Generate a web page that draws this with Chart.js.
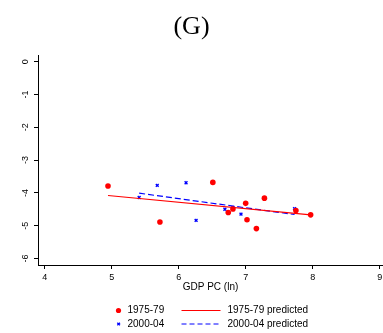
<!DOCTYPE html>
<html>
<head>
<meta charset="utf-8">
<script src="https://cdn.jsdelivr.net/npm/chart.js@4/dist/chart.umd.min.js"></script>
<style>
  html, body { margin: 0; padding: 0; background: #fff; }
  #wrap { width: 383px; height: 333px; }
</style>
</head>
<body>
<div id="wrap"><canvas id="chart" width="383" height="333"></canvas></div>
<script>
// 1975-79 observations (ln GDP per capita, outcome)
const gdp7579 = [4.945, 5.72, 6.51, 6.74, 6.81, 7.0, 7.02, 7.16, 7.28, 7.75, 7.97];
const val7579 = [-3.79, -4.89, -3.68, -4.60, -4.49, -4.32, -4.82, -5.09, -4.16, -4.54, -4.67];

// 2000-04 observations
const gdp0004 = [5.41, 5.68, 6.11, 6.26, 6.69, 6.81, 6.93, 7.73];
const val0004 = [-4.14, -3.77, -3.69, -4.84, -4.50, -4.44, -4.65, -4.48];

// fitted lines, read at their end points
const pred7579X = [4.945, 7.97];
const pred7579Y = [-4.08, -4.67];
const pred0004X = [5.41, 7.73];
const pred0004Y = [-4.01, -4.66];

const xTicks = [4, 5, 6, 7, 8, 9];
const yTicks = [0, -1, -2, -3, -4, -5, -6];

const RED = "#ff0000";
const BLUE = "#0000ff";
const SANS = "'Liberation Sans', Arial, sans-serif";

function toPoints(xs, ys) {
  return xs.map((x, i) => ({ x: x, y: ys[i] }));
}

// Stata-style two column legend under the axis title
const legendPlugin = {
  id: "gridLegend",
  afterDraw(chart) {
    const ctx = chart.ctx;
    ctx.save();
    ctx.font = "10px " + SANS;
    ctx.fillStyle = "#000";
    ctx.textBaseline = "middle";
    ctx.textAlign = "left";

    const row1 = 310.5;
    const row2 = 324;

    // 1975-79 marker
    ctx.fillStyle = RED;
    ctx.beginPath();
    ctx.arc(118.5, row1, 2.6, 0, Math.PI * 2);
    ctx.fill();

    // 2000-04 marker
    ctx.strokeStyle = BLUE;
    ctx.lineWidth = 1.3;
    ctx.beginPath();
    ctx.moveTo(117.3, row2 - 1.3);
    ctx.lineTo(120, row2 + 1.3);
    ctx.moveTo(120, row2 - 1.3);
    ctx.lineTo(117.3, row2 + 1.3);
    ctx.stroke();

    // predicted lines
    ctx.lineWidth = 1;
    ctx.strokeStyle = RED;
    ctx.beginPath();
    ctx.moveTo(181.5, row1);
    ctx.lineTo(220.5, row1);
    ctx.stroke();

    ctx.strokeStyle = BLUE;
    ctx.setLineDash([5, 3]);
    ctx.beginPath();
    ctx.moveTo(181.5, row2);
    ctx.lineTo(220.5, row2);
    ctx.stroke();
    ctx.setLineDash([]);

    ctx.fillStyle = "#000";
    ctx.fillText("1975-79", 127.5, row1);
    ctx.fillText("2000-04", 127.5, row2);
    ctx.fillText("1975-79 predicted", 227.5, row1);
    ctx.fillText("2000-04 predicted", 227.5, row2);
    ctx.restore();
  }
};

const chart = new Chart(document.getElementById("chart").getContext("2d"), {
  type: "scatter",
  data: {
    datasets: [
      {
        label: "1975-79",
        data: toPoints(gdp7579, val7579),
        backgroundColor: RED,
        borderColor: RED,
        pointRadius: 2.8,
        pointHoverRadius: 2.8,
        pointBorderWidth: 0
      },
      {
        label: "1975-79 predicted",
        type: "line",
        data: toPoints(pred7579X, pred7579Y),
        borderColor: RED,
        borderWidth: 1.2,
        pointRadius: 0,
        pointHoverRadius: 0,
        fill: false
      },
      {
        label: "2000-04",
        data: toPoints(gdp0004, val0004),
        pointStyle: "crossRot",
        borderColor: BLUE,
        backgroundColor: BLUE,
        pointRadius: 2,
        pointHoverRadius: 2,
        pointBorderWidth: 1.4
      },
      {
        label: "2000-04 predicted",
        type: "line",
        data: toPoints(pred0004X, pred0004Y),
        borderColor: BLUE,
        borderWidth: 1.2,
        borderDash: [6, 3],
        pointRadius: 0,
        pointHoverRadius: 0,
        fill: false
      }
    ]
  },
  options: {
    responsive: false,
    animation: false,
    events: [],
    layout: { autoPadding: false, padding: { top: 0, left: 0, right: 0, bottom: 38 } },
    plugins: {
      legend: { display: false },
      tooltip: { enabled: false },
      title: {
        display: true,
        text: "(G)",
        color: "#000",
        font: { family: "'Liberation Serif', 'Times New Roman', serif", size: 26, weight: "normal" },
        padding: { top: 12, bottom: 12 }
      }
    },
    scales: {
      x: {
        type: "linear",
        min: 3.9,
        max: 9.05,
        afterBuildTicks: (scale) => {
          scale.ticks = xTicks.map((v) => ({ value: v }));
        },
        afterFit: (scale) => {
          scale.height = 30;
          scale.paddingRight = 0;
          scale.paddingLeft = 0;
        },
        ticks: {
          color: "#000",
          font: { family: SANS, size: 9 },
          padding: 3,
          maxRotation: 0,
          autoSkip: false
        },
        grid: { drawOnChartArea: false, drawTicks: true, tickLength: 4, color: "#000" },
        border: { display: true, color: "#000", width: 1 },
        title: {
          display: true,
          text: "GDP PC (ln)",
          color: "#000",
          font: { family: SANS, size: 10 },
          padding: { top: 0, bottom: 2 }
        }
      },
      y: {
        type: "linear",
        min: -6.2,
        max: 0.2,
        afterBuildTicks: (scale) => {
          scale.ticks = yTicks.map((v) => ({ value: v }));
        },
        afterFit: (scale) => {
          scale.width = 38;
        },
        ticks: {
          color: "#000",
          font: { family: SANS, size: 9 },
          padding: 4,
          minRotation: 90,
          maxRotation: 90,
          crossAlign: "center",
          autoSkip: false
        },
        grid: { drawOnChartArea: false, drawTicks: true, tickLength: 4, color: "#000" },
        border: { display: true, color: "#000", width: 1 }
      }
    }
  },
  plugins: [legendPlugin]
});
</script>
</body>
</html>
